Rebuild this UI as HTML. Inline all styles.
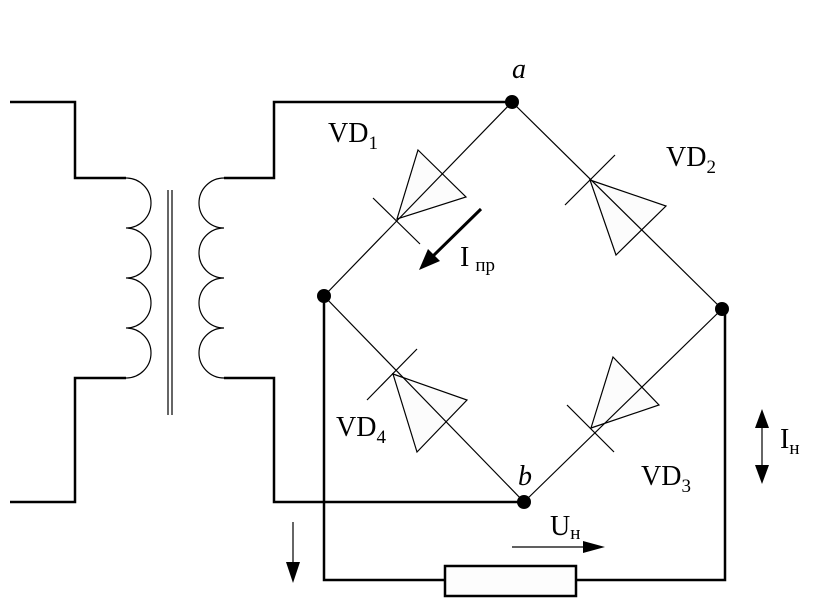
<!DOCTYPE html>
<html><head><meta charset="utf-8"><style>body{margin:0;background:#fff}svg{display:block}text{font-family:"Liberation Serif",serif;fill:#000}</style></head><body>
<svg width="820" height="610" viewBox="0 0 820 610" xmlns="http://www.w3.org/2000/svg">
<g fill="none" stroke="#000" stroke-width="2.5">
<polyline points="10,102 75,102 75,178 126,178"/>
<polyline points="126,378 75,378 75,502 10,502"/>
<polyline points="512,102 274,102 274,178 224,178"/>
<polyline points="224,378 274,378 274,502 524,502"/>
<polyline points="324,296 324,580 445,580"/>
<polyline points="576,580 725,580 725,309"/>
<rect x="445" y="566" width="131" height="30" fill="#fdfdfd"/>
</g>
<g fill="#fcfcfc" stroke="#000" stroke-width="1.2">
<polygon points="418,150 466,197 397,219"/>
<polygon points="590,180 666,206 616,255"/>
<polygon points="393,374 467,400 417,452"/>
<polygon points="591,428 613,357 659,405"/>
</g>
<g fill="none" stroke="#000" stroke-width="1.2">
<path d="M126,178 a25,25 0 0 1 0,50 a25,25 0 0 1 0,50 a25,25 0 0 1 0,50 a25,25 0 0 1 0,50"/>
<path d="M224,178 a25,25 0 0 0 0,50 a25,25 0 0 0 0,50 a25,25 0 0 0 0,50 a25,25 0 0 0 0,50"/>
<line x1="168" y1="190" x2="168" y2="415"/><line x1="172" y1="190" x2="172" y2="415"/>
<line x1="512" y1="102" x2="324" y2="296"/>
<line x1="512" y1="102" x2="722" y2="309"/>
<line x1="324" y1="296" x2="524" y2="502"/>
<line x1="722" y1="309" x2="524" y2="502"/>
<line x1="373" y1="198" x2="420" y2="244"/>
<line x1="565" y1="205" x2="615" y2="155"/>
<line x1="367" y1="400" x2="417" y2="349"/>
<line x1="567" y1="405" x2="614" y2="452"/>
<line x1="293" y1="522" x2="293" y2="565"/>
<line x1="762" y1="425" x2="762" y2="470"/>
<line x1="512" y1="547" x2="585" y2="547"/>
</g>
<line x1="481" y1="209" x2="432" y2="257" stroke="#000" stroke-width="3"/>
<polygon points="419,270 428,249 440,261" fill="#000"/>
<polygon points="286,562 300,562 293,583" fill="#000"/>
<polygon points="755,428 769,428 762,409" fill="#000"/>
<polygon points="755,465 769,465 762,484" fill="#000"/>
<polygon points="583,541 583,553 605,547" fill="#000"/>
<g fill="#000"><circle cx="512" cy="102" r="7"/><circle cx="324" cy="296" r="7"/><circle cx="722" cy="309" r="7"/><circle cx="524" cy="502" r="7"/></g>
<text x="512" y="78" font-size="28" font-style="italic">a</text>
<text x="518" y="485" font-size="28" font-style="italic">b</text>
<text x="328" y="142" font-size="28">VD<tspan font-size="19" dy="7">1</tspan></text>
<text x="666" y="166" font-size="28">VD<tspan font-size="19" dy="7">2</tspan></text>
<text x="641" y="485" font-size="28">VD<tspan font-size="19" dy="7">3</tspan></text>
<text x="336" y="436" font-size="28">VD<tspan font-size="19" dy="7">4</tspan></text>
<text x="460" y="266" font-size="28">I<tspan font-size="19" dx="6" dy="5">пр</tspan></text>
<text x="780" y="448" font-size="28">I<tspan font-size="19" dy="6">н</tspan></text>
<text x="550" y="535" font-size="28">U<tspan font-size="19" dy="4">н</tspan></text>
</svg>
</body></html>
